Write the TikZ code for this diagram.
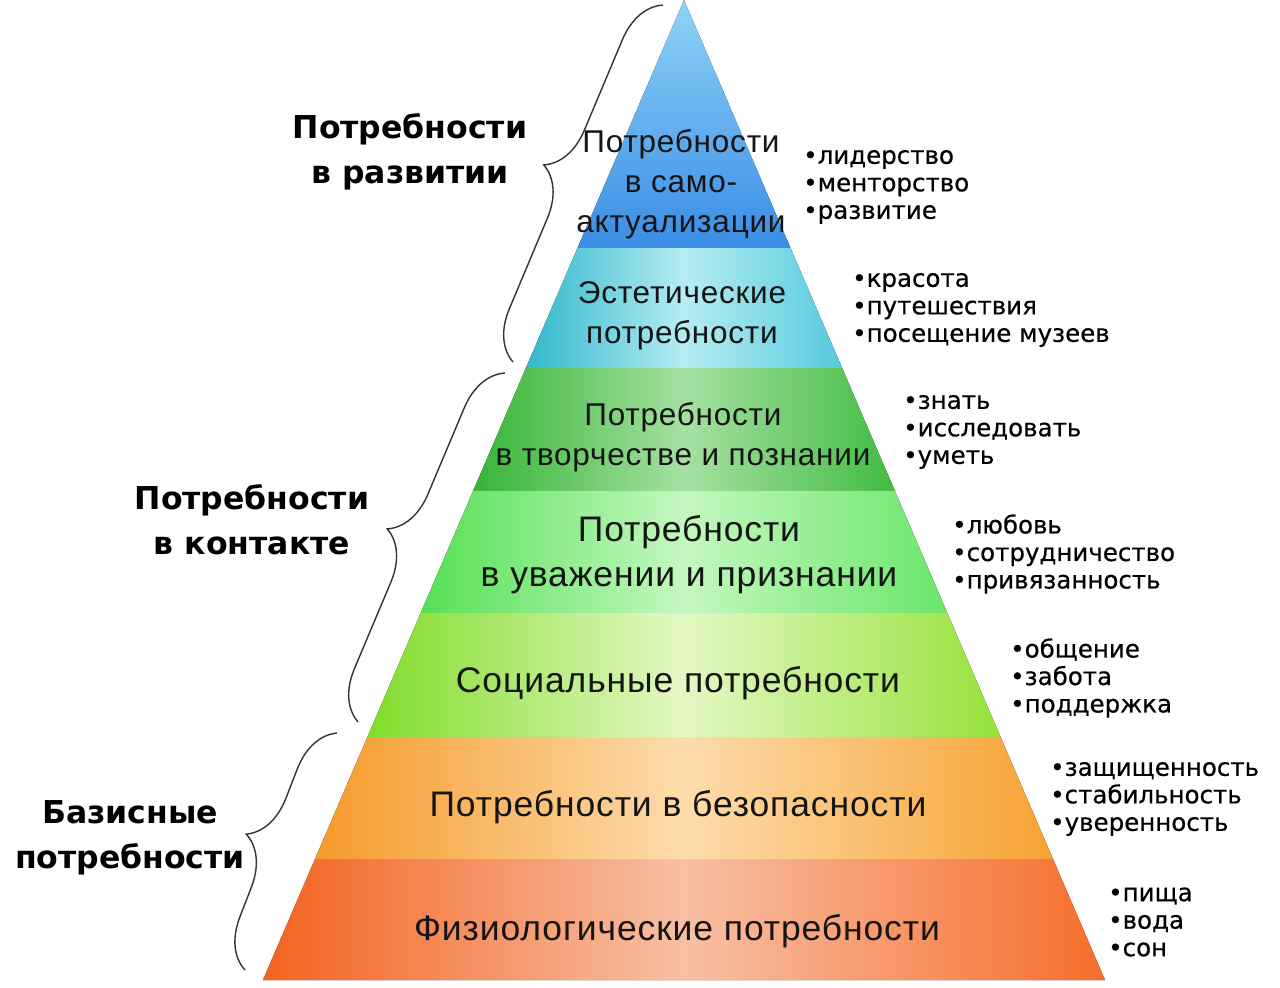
\documentclass[tikz,border=0pt]{standalone}
\usepackage{fontspec}
\setmainfont{Liberation Sans}
\newfontfamily\pyrfont[LetterSpace=2.5]{Liberation Sans}
\newfontfamily\labfont{DejaVu Sans}
\newfontfamily\listfont[FakeBold=0.5]{DejaVu Sans}
\usetikzlibrary{decorations.pathreplacing}
\definecolor{bluetop}{HTML}{8ED3F6}
\definecolor{bluebot}{HTML}{3A8CE6}
\definecolor{cyanL}{HTML}{30B8CC}
\definecolor{cyanM}{HTML}{B6ECF2}
\definecolor{cyanR}{HTML}{55CADC}
\definecolor{grnL}{HTML}{35B535}
\definecolor{grnM}{HTML}{A6E0A2}
\definecolor{grnR}{HTML}{42BC42}
\definecolor{lgrL}{HTML}{55E055}
\definecolor{lgrM}{HTML}{C4F7C0}
\definecolor{lgrR}{HTML}{6AE66A}
\definecolor{ygrL}{HTML}{80DC2A}
\definecolor{ygrM}{HTML}{E4F8C4}
\definecolor{ygrR}{HTML}{96E23A}
\definecolor{orL}{HTML}{F59A2A}
\definecolor{orM}{HTML}{FDDCAC}
\definecolor{orR}{HTML}{F7A232}
\definecolor{redL}{HTML}{F3631F}
\definecolor{redM}{HTML}{F8BFA5}
\definecolor{redR}{HTML}{F66E2A}
\definecolor{txt}{HTML}{151515}
\pgfdeclarehorizontalshading{shcyan}{100bp}{color(0bp)=(cyanL); color(25bp)=(cyanL); color(50bp)=(cyanM); color(75bp)=(cyanR); color(100bp)=(cyanR)}
\pgfdeclarehorizontalshading{shgrn}{100bp}{color(0bp)=(grnL); color(25bp)=(grnL); color(50bp)=(grnM); color(75bp)=(grnR); color(100bp)=(grnR)}
\pgfdeclarehorizontalshading{shlgr}{100bp}{color(0bp)=(lgrL); color(25bp)=(lgrL); color(50bp)=(lgrM); color(75bp)=(lgrR); color(100bp)=(lgrR)}
\pgfdeclarehorizontalshading{shygr}{100bp}{color(0bp)=(ygrL); color(25bp)=(ygrL); color(50bp)=(ygrM); color(75bp)=(ygrR); color(100bp)=(ygrR)}
\pgfdeclarehorizontalshading{shor}{100bp}{color(0bp)=(orL); color(25bp)=(orL); color(50bp)=(orM); color(75bp)=(orR); color(100bp)=(orR)}
\pgfdeclarehorizontalshading{shred}{100bp}{color(0bp)=(redL); color(25bp)=(redL); color(50bp)=(redM); color(75bp)=(redR); color(100bp)=(redR)}
\begin{document}
\begin{tikzpicture}[x=1pt,y=-1pt,
  ltext/.style={align=center, inner sep=0pt, text=txt},
  grouplabel/.style={align=center, inner sep=0pt, text=black,
    font=\labfont\bfseries\fontsize{31.5}{45}\selectfont},
  itemlist/.style={align=left, inner sep=0pt, anchor=west, text=black,
    font=\listfont\fontsize{24.5}{27.5}\selectfont},
  bracket/.style={draw=black!80, line width=1.4pt,
    decorate, decoration={brace, amplitude=48pt, aspect=0.5}}
]
\useasboundingbox (0,0) rectangle (1280,988);
\fill[white] (0,0) rectangle (1280,988);

% pyramid corner coordinates
\coordinate (apex) at (684,0);
\coordinate (l1) at (577.5,248); \coordinate (r1) at (790.5,248);
\coordinate (l2) at (525.9,368); \coordinate (r2) at (842.1,368);
\coordinate (l3) at (473.1,491); \coordinate (r3) at (894.9,491);
\coordinate (l4) at (420.7,613); \coordinate (r4) at (947.3,613);
\coordinate (l5) at (367.4,737); \coordinate (r5) at (1000.6,737);
\coordinate (l6) at (315.0,859); \coordinate (r6) at (1053.0,859);
\coordinate (l7) at (263.0,980); \coordinate (r7) at (1105.0,980);

% layers
\fill[top color=bluetop, bottom color=bluebot] (apex) -- (r1) -- (l1) -- cycle;
\fill[shading=shcyan] (l1) -- (r1) -- (r2) -- (l2) -- cycle;
\fill[shading=shgrn] (l2) -- (r2) -- (r3) -- (l3) -- cycle;
\fill[shading=shlgr] (l3) -- (r3) -- (r4) -- (l4) -- cycle;
\fill[shading=shygr] (l4) -- (r4) -- (r5) -- (l5) -- cycle;
\fill[shading=shor] (l5) -- (r5) -- (r6) -- (l6) -- cycle;
\fill[shading=shred] (l6) -- (r6) -- (r7) -- (l7) -- cycle;

% layer texts
\node[ltext, font=\pyrfont\fontsize{31.5}{40}\selectfont] (t1) at (681,184) {Потребности\\в само-\\актуализации};
\node[ltext, font=\pyrfont\fontsize{31.5}{40}\selectfont] (t2) at (682,316) {Эстетические\\потребности};
\node[ltext, font=\pyrfont\fontsize{31.5}{40}\selectfont] (t3) at (683,437) {Потребности\\в творчестве и познании};
\node[ltext, font=\pyrfont\fontsize{35.5}{45}\selectfont] (t4) at (689,555) {Потребности\\в уважении и признании};
\node[ltext, font=\pyrfont\fontsize{35.5}{45}\selectfont] (t5) at (678,683) {Социальные потребности};
\node[ltext, font=\pyrfont\fontsize{35.5}{45}\selectfont] (t6) at (678,807) {Потребности в безопасности};
\node[ltext, font=\pyrfont\fontsize{35.5}{45}\selectfont] (t7) at (677,931) {Физиологические потребности};

% item lists
\node[itemlist] (i1) at (803,187) {•лидерство\\•менторство\\•развитие};
\node[itemlist] (i2) at (852,310) {•красота\\•путешествия\\•посещение музеев};
\node[itemlist] (i3) at (903,432) {•знать\\•исследовать\\•уметь};
\node[itemlist] (i4) at (952,554) {•любовь\\•сотрудничество\\•привязанность};
\node[itemlist] (i5) at (1010,678) {•общение\\•забота\\•поддержка};
\node[itemlist] (i6) at (1050,799) {•защищенность\\•стабильность\\•уверенность};
\node[itemlist] (i7) at (1108,922) {•пища\\•вода\\•сон};

% group labels
\node[grouplabel] (g1) at (410,152) {Потребности\\в развитии};
\node[grouplabel] (g2) at (252,520) {Потребности\\в контакте};
\node[grouplabel] (g3) at (130,838) {Базисные\\потребности};

% braces
\coordinate (b1top) at (663,5);   \coordinate (b1bot) at (513,362);
\coordinate (b2top) at (505,373); \coordinate (b2bot) at (358,722);
\coordinate (b3top) at (337,733); \coordinate (b3bot) at (245,970);
\draw[bracket] (b1bot) -- (b1top);
\draw[bracket] (b2bot) -- (b2top);
\draw[bracket] (b3bot) -- (b3top);
\end{tikzpicture}
\end{document}
